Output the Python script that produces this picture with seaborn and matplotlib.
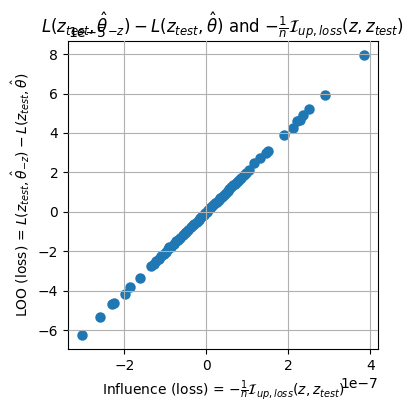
# influence vs leave-one-out loss difference

import numpy as np
import pandas as pd
import matplotlib
matplotlib.use("Agg")
import matplotlib.pyplot as plt
import seaborn as sns

# =====================
# DATA
# =====================
# influence (loss), units of 1e-7
influence = np.array([
    -3.03, -2.59, -2.29, -2.25, -1.98, -1.85, -1.63, -1.34, -1.28, -1.22,
    -1.15, -1.10, -1.04, -0.98, -0.93, -0.90, -0.86, -0.80, -0.74, -0.70,
    -0.65, -0.58, -0.53, -0.49, -0.44, -0.38, -0.33, -0.29, -0.24, -0.19,
    -0.15, -0.11, -0.07, -0.03, 0.01, 0.05, 0.09, 0.12, 0.17, 0.21,
    0.25, 0.30, 0.34, 0.38, 0.43, 0.47, 0.52, 0.56, 0.61, 0.66,
    0.70, 0.75, 0.80, 0.85, 0.91, 0.97, 1.05, 1.17, 1.30, 1.46,
    1.50, 1.89, 2.11, 2.22, 2.27, 2.35, 2.51, 2.90, 3.84,
]) * 1e-7

# LOO (loss), units of 1e-5
loo = np.array([
    -6.23, -5.33, -4.65, -4.59, -4.16, -3.78, -3.32, -2.73, -2.61, -2.49,
    -2.36, -2.25, -2.12, -2.01, -1.90, -1.78, -1.75, -1.63, -1.47, -1.41,
    -1.32, -1.19, -1.08, -1.00, -0.90, -0.77, -0.67, -0.59, -0.49, -0.39,
    -0.30, -0.22, -0.14, -0.06, 0.02, 0.10, 0.18, 0.25, 0.35, 0.43,
    0.51, 0.61, 0.70, 0.78, 0.88, 0.96, 1.06, 1.15, 1.25, 1.35,
    1.43, 1.53, 1.63, 1.74, 1.86, 1.97, 2.15, 2.49, 2.74, 3.00,
    3.11, 3.89, 4.26, 4.60, 4.68, 4.89, 5.23, 5.94, 7.95,
]) * 1e-5

df = pd.DataFrame({"influence": influence, "loo": loo})

# =====================
# PLOT
# =====================
fig = plt.figure(figsize=(4.14, 4.12), dpi=100)
ax = fig.add_axes([68 / 414, 63 / 412, 310 / 414, 308 / 412])

sns.scatterplot(data=df, x="influence", y="loo", ax=ax,
                color="#1f77b4", s=36, edgecolor="face", linewidth=1.5)

ax.grid(True)
ax.set_axisbelow(False)
# fixed y so the title sits right on the axes (overlapping the offset text)
ax.set_title(r"$L(z_{test}, \hat{\theta}_{-z}) - L(z_{test}, \hat{\theta})$ and "
             r"$-\frac{1}{n}\mathcal{I}_{up, loss}(z, z_{test})$", y=1.0)
ax.set_xlabel(r"Influence (loss) = $-\frac{1}{n}\mathcal{I}_{up, loss}(z, z_{test})$")
ax.set_ylabel(r"LOO (loss) = $L(z_{test}, \hat{\theta}_{-z}) - L(z_{test}, \hat{\theta})$")

fig.savefig("out.png", dpi=100)
